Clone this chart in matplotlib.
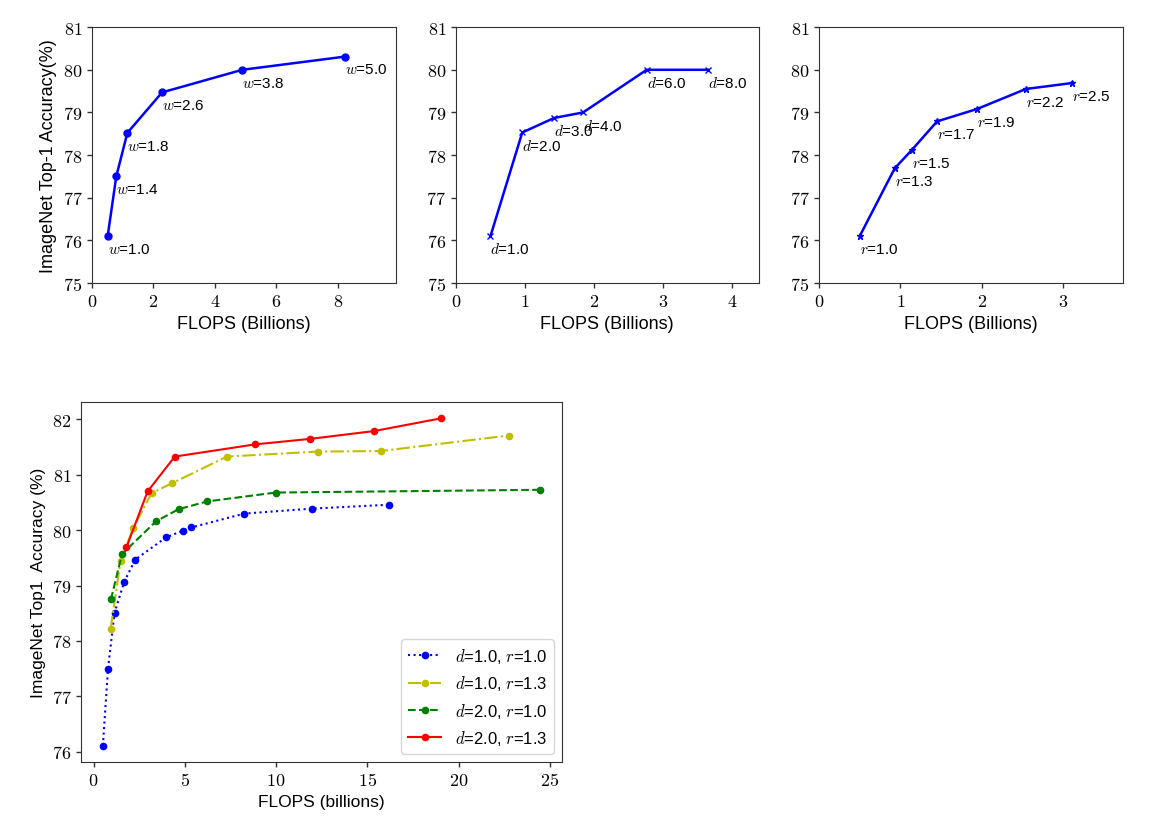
import matplotlib
matplotlib.use("Agg")
import matplotlib.pyplot as plt
from matplotlib.ticker import FuncFormatter

plt.rcParams['font.family'] = ['Liberation Sans', 'DejaVu Sans']
plt.rcParams['mathtext.fontset'] = 'cm'

# width scaling
w_flops = [0.51, 0.79, 1.15, 2.28, 4.89, 8.24]
w_acc = [76.1, 77.5, 78.52, 79.47, 80.0, 80.31]
w_labels = ['1.0', '1.4', '1.8', '2.6', '3.8', '5.0']

# depth scaling
d_flops = [0.50, 0.96, 1.42, 1.84, 2.76, 3.65]
d_acc = [76.1, 78.53, 78.87, 79.0, 80.0, 80.0]
d_labels = ['1.0', '2.0', '3.0', '4.0', '6.0', '8.0']

# resolution scaling
r_flops = [0.50, 0.93, 1.14, 1.45, 1.94, 2.54, 3.11]
r_acc = [76.1, 77.69, 78.12, 78.79, 79.08, 79.55, 79.69]
r_labels = ['1.0', '1.3', '1.5', '1.7', '1.9', '2.2', '2.5']

# compound scaling
s1_flops = [0.51, 0.79, 1.15, 1.68, 2.29, 3.97, 4.88, 5.36, 8.26, 11.96, 16.17]
s1_acc = [76.11, 77.50, 78.51, 79.07, 79.47, 79.87, 79.99, 80.05, 80.30, 80.39, 80.46]
s2_flops = [0.93, 1.48, 2.17, 3.18, 4.31, 7.31, 12.29, 15.73, 22.75]
s2_acc = [78.21, 79.44, 80.04, 80.67, 80.85, 81.33, 81.42, 81.43, 81.71]
s3_flops = [0.95, 1.56, 3.42, 4.66, 6.23, 9.98, 24.47]
s3_acc = [78.75, 79.57, 80.16, 80.38, 80.52, 80.68, 80.73]
s4_flops = [1.80, 2.96, 4.45, 8.85, 11.88, 15.36, 19.03]
s4_acc = [79.69, 80.70, 81.33, 81.55, 81.65, 81.79, 82.02]
series_names = [r'$d$=1.0, $r$=1.0', r'$d$=1.0, $r$=1.3',
                r'$d$=2.0, $r$=1.0', r'$d$=2.0, $r$=1.3']

cm_fmt = FuncFormatter(lambda v, p: f'${v:g}$')


def style_axes(ax):
    ax.xaxis.set_major_formatter(cm_fmt)
    ax.yaxis.set_major_formatter(cm_fmt)
    ax.tick_params(labelsize=13, color='0.2', width=1)
    for s in ax.spines.values():
        s.set_color('0.2')


fig = plt.figure(figsize=(11.69, 8.28), dpi=100)

ax1 = fig.add_axes([0.0787, 0.657, 0.260, 0.309])
ax2 = fig.add_axes([0.390, 0.657, 0.259, 0.309])
ax3 = fig.add_axes([0.7006, 0.657, 0.260, 0.309])

tops = [
    (ax1, w_flops, w_acc, w_labels, 'w', 'o', 5),
    (ax2, d_flops, d_acc, d_labels, 'd', 'x', 5),
    (ax3, r_flops, r_acc, r_labels, 'r', '*', 5),
]
for ax, xs, ys, labs, sym, mk, ms in tops:
    ax.plot(xs, ys, color='b', marker=mk, markersize=ms, linewidth=1.8)
    for x, y, lab in zip(xs, ys, labs):
        ax.text(x, y - 0.3, f'${sym}$={lab}', fontsize=11, va='center', ha='left')
    ax.set_xlim(0, max(xs) * 1.2)
    ax.set_ylim(75, 81)
    ax.set_xlabel('FLOPS (Billions)', fontsize=13)
    style_axes(ax)

ax1.set_ylabel('ImageNet Top-1 Accuracy(%)', fontsize=13)

ax4 = fig.add_axes([0.0693, 0.0785, 0.4115, 0.4348])
ax4.plot(s1_flops, s1_acc, 'b:', marker='o', markersize=4.5, linewidth=1.5, label=series_names[0])
ax4.plot(s2_flops, s2_acc, 'y-.', marker='o', markersize=4.5, linewidth=1.5, label=series_names[1])
ax4.plot(s3_flops, s3_acc, 'g--', marker='o', markersize=4.5, linewidth=1.5, label=series_names[2])
ax4.plot(s4_flops, s4_acc, 'r-', marker='o', markersize=4.5, linewidth=1.5, label=series_names[3])
ax4.set_xticks([0, 5, 10, 15, 20, 25])
ax4.set_xlabel('FLOPS (billions)', fontsize=12.5)
ax4.set_ylabel('ImageNet Top1  Accuracy (%)', fontsize=12.5)
style_axes(ax4)
ax4.legend(loc='lower right', fontsize=12)

fig.savefig('out.png', dpi=100)
